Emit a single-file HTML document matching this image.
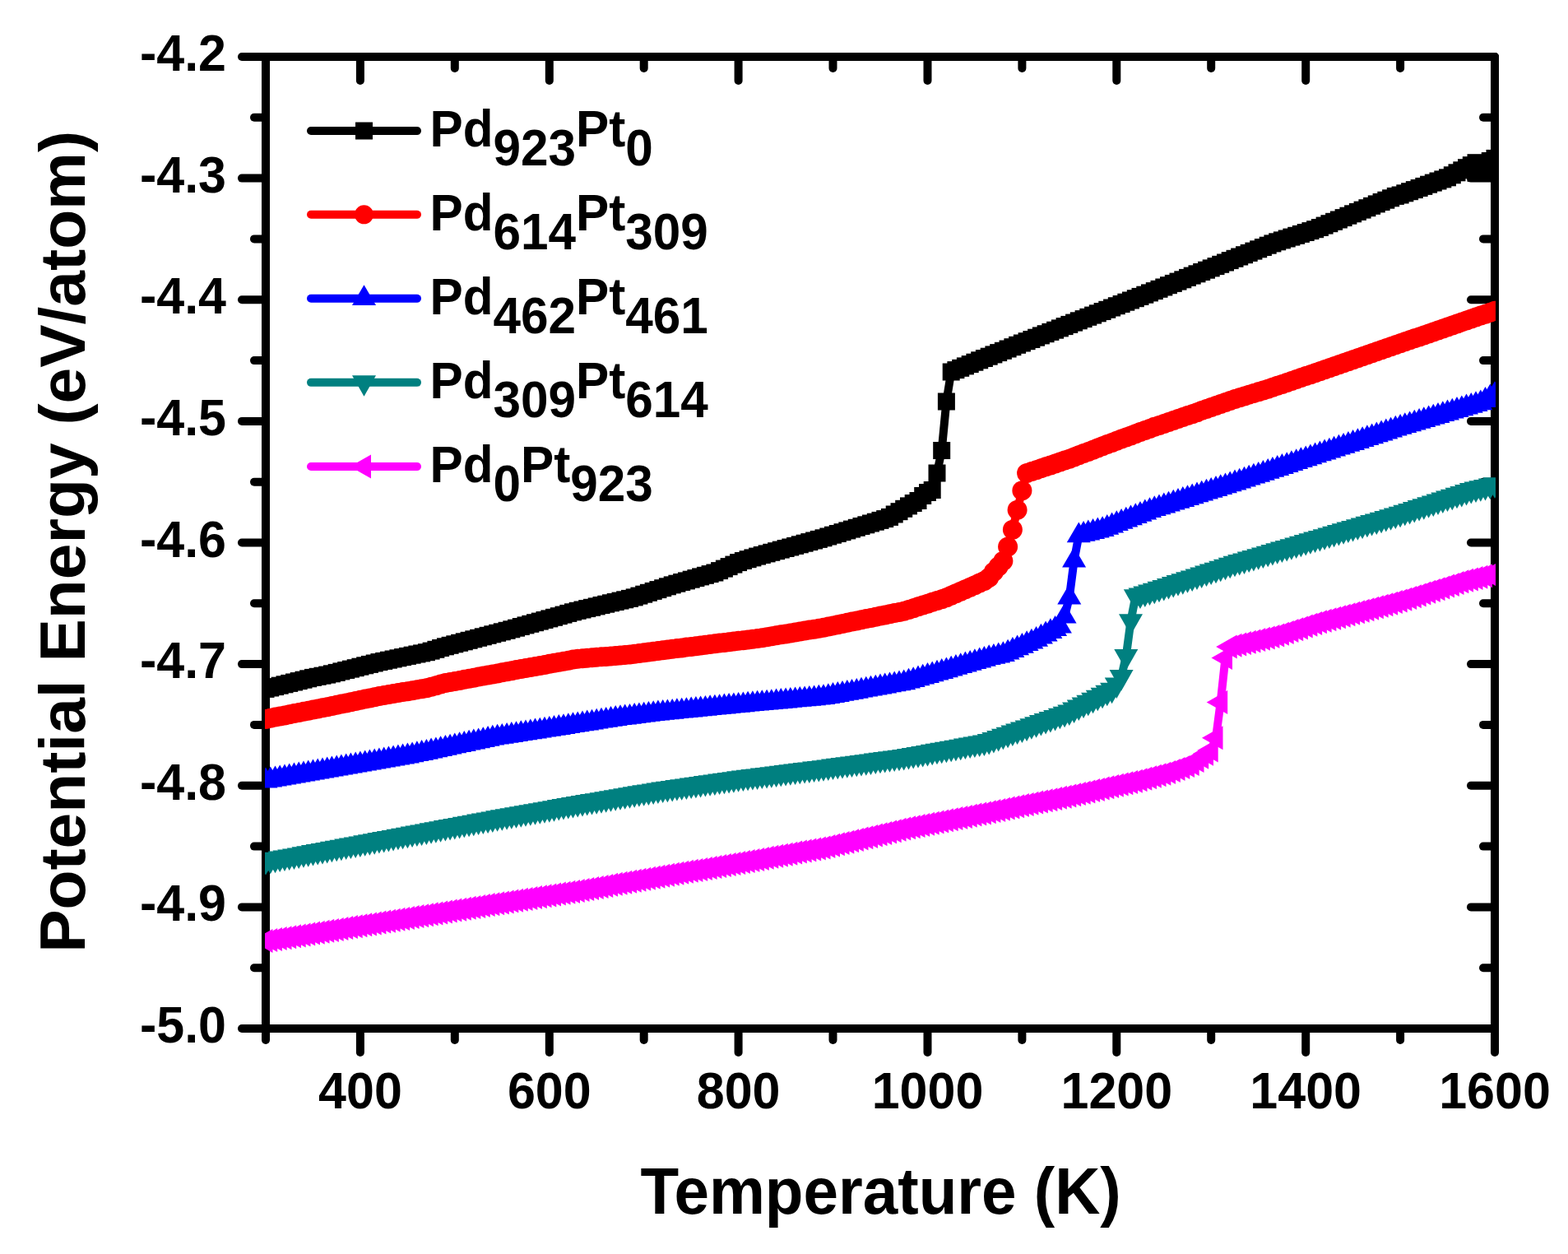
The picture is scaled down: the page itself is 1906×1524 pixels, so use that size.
<!DOCTYPE html>
<html><head><meta charset="utf-8"><title>Potential Energy vs Temperature</title>
<style>html,body{margin:0;padding:0;background:#fff;}svg{display:block;}</style>
</head><body>
<svg width="1906" height="1524" viewBox="0 0 1906 1524">
<defs>
<marker id="mSq" markerUnits="userSpaceOnUse" markerWidth="22" markerHeight="22" refX="11" refY="11" overflow="visible"><rect x="0.5" y="0.5" width="21" height="21" fill="#000"/></marker>
<marker id="mCi" markerUnits="userSpaceOnUse" markerWidth="24" markerHeight="24" refX="12" refY="12" overflow="visible"><circle cx="12" cy="12" r="11.5" fill="#f00"/></marker>
<marker id="mCi2" markerUnits="userSpaceOnUse" markerWidth="24" markerHeight="24" refX="12" refY="12" overflow="visible"><circle cx="12" cy="12" r="12" fill="#f00"/></marker>
<marker id="mTu" markerUnits="userSpaceOnUse" markerWidth="30" markerHeight="30" refX="15" refY="16.8" overflow="visible"><path d="M15,0.3 L29.5,25.1 L0.5,25.1Z" fill="#00f"/></marker>
<marker id="mTd" markerUnits="userSpaceOnUse" markerWidth="30" markerHeight="30" refX="15" refY="8.6" overflow="visible"><path d="M0.5,0 L29.5,0 L15,25.5Z" fill="#008080"/></marker>
<marker id="mTl" markerUnits="userSpaceOnUse" markerWidth="30" markerHeight="30" refX="17" refY="14.5" overflow="visible"><path d="M0,14.5 L25.5,0 L25.5,29Z" fill="#f0f"/></marker>
<clipPath id="clipPlot"><rect x="322" y="0" width="1496" height="1524"/></clipPath>
</defs>
<rect width="1906" height="1524" fill="#fff"/>
<g stroke="#000" stroke-width="10" stroke-linecap="round" fill="none"><rect x="323" y="69" width="1494" height="1181" fill="none" stroke="#000" stroke-width="10" stroke-linejoin="round"/><line x1="323" y1="69.0" x2="294" y2="69.0"/><line x1="1817" y1="69.0" x2="1788" y2="69.0"/><line x1="323" y1="142.8" x2="309" y2="142.8"/><line x1="1817" y1="142.8" x2="1803" y2="142.8"/><line x1="323" y1="216.6" x2="294" y2="216.6"/><line x1="1817" y1="216.6" x2="1788" y2="216.6"/><line x1="323" y1="290.4" x2="309" y2="290.4"/><line x1="1817" y1="290.4" x2="1803" y2="290.4"/><line x1="323" y1="364.2" x2="294" y2="364.2"/><line x1="1817" y1="364.2" x2="1788" y2="364.2"/><line x1="323" y1="438.1" x2="309" y2="438.1"/><line x1="1817" y1="438.1" x2="1803" y2="438.1"/><line x1="323" y1="511.9" x2="294" y2="511.9"/><line x1="1817" y1="511.9" x2="1788" y2="511.9"/><line x1="323" y1="585.7" x2="309" y2="585.7"/><line x1="1817" y1="585.7" x2="1803" y2="585.7"/><line x1="323" y1="659.5" x2="294" y2="659.5"/><line x1="1817" y1="659.5" x2="1788" y2="659.5"/><line x1="323" y1="733.3" x2="309" y2="733.3"/><line x1="1817" y1="733.3" x2="1803" y2="733.3"/><line x1="323" y1="807.1" x2="294" y2="807.1"/><line x1="1817" y1="807.1" x2="1788" y2="807.1"/><line x1="323" y1="880.9" x2="309" y2="880.9"/><line x1="1817" y1="880.9" x2="1803" y2="880.9"/><line x1="323" y1="954.8" x2="294" y2="954.8"/><line x1="1817" y1="954.8" x2="1788" y2="954.8"/><line x1="323" y1="1028.6" x2="309" y2="1028.6"/><line x1="1817" y1="1028.6" x2="1803" y2="1028.6"/><line x1="323" y1="1102.4" x2="294" y2="1102.4"/><line x1="1817" y1="1102.4" x2="1788" y2="1102.4"/><line x1="323" y1="1176.2" x2="309" y2="1176.2"/><line x1="1817" y1="1176.2" x2="1803" y2="1176.2"/><line x1="323" y1="1250.0" x2="294" y2="1250.0"/><line x1="1817" y1="1250.0" x2="1788" y2="1250.0"/><line x1="323.0" y1="1250" x2="323.0" y2="1264"/><line x1="323.0" y1="69" x2="323.0" y2="83"/><line x1="437.9" y1="1250" x2="437.9" y2="1279"/><line x1="437.9" y1="69" x2="437.9" y2="98"/><line x1="552.8" y1="1250" x2="552.8" y2="1264"/><line x1="552.8" y1="69" x2="552.8" y2="83"/><line x1="667.8" y1="1250" x2="667.8" y2="1279"/><line x1="667.8" y1="69" x2="667.8" y2="98"/><line x1="782.7" y1="1250" x2="782.7" y2="1264"/><line x1="782.7" y1="69" x2="782.7" y2="83"/><line x1="897.6" y1="1250" x2="897.6" y2="1279"/><line x1="897.6" y1="69" x2="897.6" y2="98"/><line x1="1012.5" y1="1250" x2="1012.5" y2="1264"/><line x1="1012.5" y1="69" x2="1012.5" y2="83"/><line x1="1127.5" y1="1250" x2="1127.5" y2="1279"/><line x1="1127.5" y1="69" x2="1127.5" y2="98"/><line x1="1242.4" y1="1250" x2="1242.4" y2="1264"/><line x1="1242.4" y1="69" x2="1242.4" y2="83"/><line x1="1357.3" y1="1250" x2="1357.3" y2="1279"/><line x1="1357.3" y1="69" x2="1357.3" y2="98"/><line x1="1472.2" y1="1250" x2="1472.2" y2="1264"/><line x1="1472.2" y1="69" x2="1472.2" y2="83"/><line x1="1587.2" y1="1250" x2="1587.2" y2="1279"/><line x1="1587.2" y1="69" x2="1587.2" y2="98"/><line x1="1702.1" y1="1250" x2="1702.1" y2="1264"/><line x1="1702.1" y1="69" x2="1702.1" y2="83"/><line x1="1817.0" y1="1250" x2="1817.0" y2="1279"/><line x1="1817.0" y1="69" x2="1817.0" y2="98"/></g>
<g clip-path="url(#clipPlot)">
<polyline points="323.0,837.4 328.7,836.0 334.5,834.6 340.2,833.2 346.0,831.8 351.7,830.4 357.5,829.0 363.2,827.6 369.0,826.2 374.7,824.8 380.5,823.4 386.2,822.3 392.0,821.2 397.7,820.1 403.4,818.8 409.2,817.4 414.9,815.9 420.7,814.5 426.4,813.1 432.2,811.7 437.9,810.2 443.7,808.8 449.4,807.4 455.2,806.0 460.9,804.6 466.7,803.4 472.4,802.2 478.1,801.0 483.9,799.8 489.6,798.6 495.4,797.4 501.1,796.2 506.9,795.0 512.6,793.9 518.4,792.7 524.1,791.1 529.9,789.3 535.6,787.5 541.4,785.8 547.1,784.3 552.8,782.8 558.6,781.3 564.3,779.8 570.1,778.3 575.8,776.8 581.6,775.3 587.3,773.8 593.1,772.3 598.8,770.8 604.6,769.3 610.3,767.8 616.1,766.3 621.8,764.8 627.5,763.2 633.3,761.5 639.0,759.9 644.8,758.3 650.5,756.7 656.3,755.1 662.0,753.5 667.8,751.9 673.5,750.3 679.3,748.7 685.0,747.1 690.8,745.4 696.5,743.8 702.2,742.3 708.0,741.0 713.7,739.6 719.5,738.3 725.2,736.9 731.0,735.5 736.7,734.2 742.5,732.8 748.2,731.5 754.0,730.1 759.7,728.8 765.5,727.4 771.2,725.9 776.9,724.1 782.7,722.2 788.4,720.3 794.2,718.4 799.9,716.6 805.7,714.7 811.4,712.8 817.2,710.9 822.9,709.2 828.7,707.5 834.4,705.9 840.2,704.2 845.9,702.6 851.6,700.9 857.4,699.3 863.1,697.6 868.9,696.0 874.6,693.6 880.4,691.1 886.1,688.6 891.9,686.1 897.6,683.6 903.4,681.5 909.1,679.7 914.9,677.9 920.6,676.1 926.3,674.5 932.1,672.9 937.8,671.3 943.6,669.7 949.3,668.1 955.1,666.5 960.8,665.0 966.6,663.4 972.3,661.8 978.1,660.2 983.8,658.6 989.6,657.0 995.3,655.4 1001.0,653.8 1006.8,652.0 1012.5,650.2 1018.3,648.5 1024.0,646.7 1029.8,644.9 1035.5,643.1 1041.3,641.3 1047.0,639.5 1052.8,637.8 1058.5,636.0 1064.3,634.2 1070.0,632.4 1075.7,630.6 1081.5,628.4 1087.2,625.0 1093.0,621.7 1098.7,618.3 1104.5,614.9 1110.2,611.5 1116.0,608.5 1121.7,602.5 1127.5,598.5 1133.2,595.5 1139.0,575.0 1144.7,547.5 1150.4,488.0 1156.2,452.0 1161.9,449.6 1167.7,447.3 1173.4,444.9 1179.2,442.6 1184.9,440.2 1190.7,437.8 1196.4,435.5 1202.2,433.2 1207.9,430.9 1213.7,428.6 1219.4,426.3 1225.1,424.0 1230.9,421.7 1236.6,419.3 1242.4,417.0 1248.1,414.7 1253.9,412.5 1259.6,410.2 1265.4,407.9 1271.1,405.7 1276.9,403.4 1282.6,401.2 1288.4,398.9 1294.1,396.6 1299.8,394.4 1305.6,392.1 1311.3,389.8 1317.1,387.6 1322.8,385.3 1328.6,383.1 1334.3,380.8 1340.1,378.5 1345.8,376.3 1351.6,374.0 1357.3,371.7 1363.1,369.5 1368.8,367.2 1374.5,365.0 1380.3,362.7 1386.0,360.4 1391.8,358.2 1397.5,355.9 1403.3,353.6 1409.0,351.3 1414.8,349.0 1420.5,346.7 1426.3,344.4 1432.0,342.1 1437.8,339.8 1443.5,337.4 1449.2,335.1 1455.0,332.8 1460.7,330.5 1466.5,328.2 1472.2,325.9 1478.0,323.6 1483.7,321.3 1489.5,319.0 1495.2,316.6 1501.0,314.3 1506.7,312.0 1512.5,309.7 1518.2,307.4 1523.9,305.1 1529.7,302.8 1535.4,300.5 1541.2,298.2 1546.9,295.9 1552.7,293.8 1558.4,291.9 1564.2,290.0 1569.9,288.1 1575.7,286.3 1581.4,284.4 1587.2,282.5 1592.9,280.6 1598.6,278.7 1604.4,276.5 1610.1,274.1 1615.9,271.7 1621.6,269.3 1627.4,267.0 1633.1,264.6 1638.9,262.2 1644.6,259.8 1650.4,257.4 1656.1,255.1 1661.9,252.7 1667.6,250.3 1673.3,247.9 1679.1,245.5 1684.8,243.2 1690.6,240.8 1696.3,238.4 1702.1,237.0 1707.8,234.8 1713.6,232.7 1719.3,230.6 1725.1,228.5 1730.8,226.4 1736.6,224.2 1742.3,222.1 1748.0,220.0 1753.8,217.9 1759.5,215.8 1765.3,212.8 1771.0,209.8 1776.8,206.8 1782.5,203.7 1788.3,200.7 1794.0,197.7 1794.0,210.3 1799.8,210.3 1805.5,210.3 1811.3,195.5 1817.0,192.4" fill="none" stroke="#000" stroke-width="10" stroke-linejoin="round" marker-start="url(#mSq)" marker-mid="url(#mSq)" marker-end="url(#mSq)"/>
<polyline points="323.0,873.9 328.7,872.7 334.5,871.6 340.2,870.5 346.0,869.4 351.7,868.2 357.5,867.1 363.2,866.0 369.0,864.8 374.7,863.7 380.5,862.6 386.2,861.4 392.0,860.3 397.7,859.2 403.4,858.0 409.2,856.8 414.9,855.6 420.7,854.4 426.4,853.2 432.2,852.0 437.9,850.8 443.7,849.6 449.4,848.4 455.2,847.2 460.9,846.1 466.7,845.1 472.4,844.1 478.1,843.1 483.9,842.1 489.6,841.1 495.4,840.2 501.1,839.2 506.9,838.2 512.6,837.2 518.4,836.2 524.1,834.8 529.9,833.2 535.6,831.5 541.4,830.0 547.1,829.0 552.8,827.9 558.6,826.9 564.3,825.8 570.1,824.7 575.8,823.7 581.6,822.6 587.3,821.5 593.1,820.5 598.8,819.4 604.6,818.4 610.3,817.3 616.1,816.2 621.8,815.2 627.5,814.1 633.3,813.1 639.0,812.0 644.8,811.0 650.5,810.0 656.3,808.9 662.0,807.9 667.8,806.8 673.5,805.8 679.3,804.8 685.0,803.7 690.8,802.7 696.5,801.6 702.2,800.8 708.0,800.3 713.7,799.8 719.5,799.3 725.2,798.8 731.0,798.3 736.7,797.9 742.5,797.4 748.2,796.9 754.0,796.4 759.7,795.9 765.5,795.4 771.2,794.8 776.9,794.1 782.7,793.3 788.4,792.6 794.2,791.8 799.9,791.1 805.7,790.3 811.4,789.6 817.2,788.8 822.9,788.1 828.7,787.4 834.4,786.6 840.2,785.9 845.9,785.2 851.6,784.4 857.4,783.7 863.1,783.0 868.9,782.2 874.6,781.5 880.4,780.9 886.1,780.2 891.9,779.5 897.6,778.8 903.4,778.2 909.1,777.5 914.9,776.8 920.6,776.1 926.3,775.2 932.1,774.2 937.8,773.2 943.6,772.3 949.3,771.3 955.1,770.4 960.8,769.4 966.6,768.5 972.3,767.5 978.1,766.6 983.8,765.6 989.6,764.7 995.3,763.7 1001.0,762.7 1006.8,761.5 1012.5,760.4 1018.3,759.2 1024.0,758.0 1029.8,756.8 1035.5,755.6 1041.3,754.5 1047.0,753.3 1052.8,752.1 1058.5,750.9 1064.3,749.8 1070.0,748.6 1075.7,747.4 1081.5,746.2 1087.2,745.1 1093.0,743.9 1098.7,742.7 1104.5,741.0 1110.2,739.2 1116.0,737.3 1121.7,735.5 1127.5,733.7 1133.2,731.8 1139.0,730.0 1144.7,728.2 1150.4,726.3 1156.2,723.8 1161.9,721.3 1167.7,718.8 1173.4,716.3 1179.2,713.8 1184.9,711.2 1190.7,708.6 1196.4,706.0 1202.2,701.9 1207.9,695.1 1213.7,688.4 1219.4,681.7 1225.1,664.6 1230.9,643.7 1236.6,619.7 1242.4,596.2 1248.1,575.0 1253.9,573.1 1259.6,571.2 1265.4,569.2 1271.1,567.3 1276.9,565.4 1282.6,563.5 1288.4,561.5 1294.1,559.6 1299.8,557.7 1305.6,555.5 1311.3,553.3 1317.1,551.1 1322.8,548.9 1328.6,546.7 1334.3,544.5 1340.1,542.3 1345.8,540.1 1351.6,537.9 1357.3,535.8 1363.1,533.6 1368.8,531.5 1374.5,529.4 1380.3,527.2 1386.0,525.1 1391.8,523.0 1397.5,520.9 1403.3,518.8 1409.0,516.9 1414.8,514.9 1420.5,513.0 1426.3,511.0 1432.0,509.0 1437.8,507.1 1443.5,505.1 1449.2,503.2 1455.0,501.2 1460.7,499.1 1466.5,497.1 1472.2,495.1 1478.0,493.0 1483.7,491.0 1489.5,489.0 1495.2,486.9 1501.0,485.0 1506.7,483.2 1512.5,481.5 1518.2,479.7 1523.9,478.0 1529.7,476.3 1535.4,474.5 1541.2,472.7 1546.9,470.8 1552.7,468.8 1558.4,466.9 1564.2,464.9 1569.9,463.0 1575.7,461.0 1581.4,459.1 1587.2,457.1 1592.9,455.2 1598.6,453.2 1604.4,451.2 1610.1,449.2 1615.9,447.2 1621.6,445.2 1627.4,443.2 1633.1,441.2 1638.9,439.2 1644.6,437.2 1650.4,435.2 1656.1,433.3 1661.9,431.3 1667.6,429.3 1673.3,427.3 1679.1,425.3 1684.8,423.3 1690.6,421.3 1696.3,419.3 1702.1,417.3 1707.8,415.3 1713.6,413.3 1719.3,411.3 1725.1,409.4 1730.8,407.4 1736.6,405.4 1742.3,403.4 1748.0,401.4 1753.8,399.5 1759.5,397.5 1765.3,395.5 1771.0,393.5 1776.8,391.6 1782.5,389.6 1788.3,387.6 1794.0,385.6 1799.8,383.6 1805.5,381.7 1811.3,379.7 1817.0,377.7" fill="none" stroke="#f00" stroke-width="10" stroke-linejoin="round" marker-start="url(#mCi2)" marker-mid="url(#mCi2)" marker-end="url(#mCi2)"/>
<polyline points="323.0,949.1 328.7,948.1 334.5,947.1 340.2,946.1 346.0,945.1 351.7,944.1 357.5,943.1 363.2,942.1 369.0,941.1 374.7,940.1 380.5,939.1 386.2,938.1 392.0,937.1 397.7,936.1 403.4,935.1 409.2,934.1 414.9,933.1 420.7,932.1 426.4,931.1 432.2,930.1 437.9,929.1 443.7,928.1 449.4,927.1 455.2,926.1 460.9,925.1 466.7,924.1 472.4,923.1 478.1,922.1 483.9,921.1 489.6,920.1 495.4,919.1 501.1,918.0 506.9,916.8 512.6,915.6 518.4,914.4 524.1,913.1 529.9,911.9 535.6,910.7 541.4,909.5 547.1,908.2 552.8,907.0 558.6,905.8 564.3,904.6 570.1,903.3 575.8,902.1 581.6,900.9 587.3,899.7 593.1,898.5 598.8,897.2 604.6,896.3 610.3,895.4 616.1,894.5 621.8,893.6 627.5,892.7 633.3,891.8 639.0,890.9 644.8,890.0 650.5,889.1 656.3,888.2 662.0,887.3 667.8,886.4 673.5,885.5 679.3,884.6 685.0,883.7 690.8,882.7 696.5,881.8 702.2,880.9 708.0,880.0 713.7,879.1 719.5,878.2 725.2,877.2 731.0,876.3 736.7,875.4 742.5,874.5 748.2,873.6 754.0,872.8 759.7,872.1 765.5,871.4 771.2,870.6 776.9,869.9 782.7,869.2 788.4,868.5 794.2,867.8 799.9,867.1 805.7,866.5 811.4,865.9 817.2,865.4 822.9,864.8 828.7,864.2 834.4,863.7 840.2,863.1 845.9,862.5 851.6,862.0 857.4,861.4 863.1,860.8 868.9,860.3 874.6,859.7 880.4,859.1 886.1,858.5 891.9,858.0 897.6,857.4 903.4,856.9 909.1,856.3 914.9,855.8 920.6,855.3 926.3,854.7 932.1,854.2 937.8,853.7 943.6,853.1 949.3,852.6 955.1,852.1 960.8,851.5 966.6,851.0 972.3,850.5 978.1,849.9 983.8,849.4 989.6,848.9 995.3,848.3 1001.0,847.7 1006.8,846.7 1012.5,845.6 1018.3,844.6 1024.0,843.5 1029.8,842.5 1035.5,841.4 1041.3,840.4 1047.0,839.3 1052.8,838.3 1058.5,837.2 1064.3,836.2 1070.0,835.1 1075.7,834.1 1081.5,833.0 1087.2,832.0 1093.0,830.9 1098.7,829.9 1104.5,828.3 1110.2,826.7 1116.0,825.0 1121.7,823.3 1127.5,821.6 1133.2,819.9 1139.0,818.2 1144.7,816.6 1150.4,814.9 1156.2,813.2 1161.9,811.5 1167.7,809.8 1173.4,808.1 1179.2,806.5 1184.9,804.8 1190.7,803.1 1196.4,801.4 1202.2,799.8 1207.9,798.5 1213.7,797.1 1219.4,795.7 1225.1,793.2 1230.9,790.6 1236.6,788.0 1242.4,785.4 1248.1,782.8 1253.9,780.2 1259.6,777.5 1265.4,774.3 1271.1,771.1 1276.9,767.8 1282.6,764.6 1288.4,761.3 1294.1,749.2 1299.8,726.3 1305.6,681.3 1311.3,651.0 1317.1,649.5 1322.8,648.1 1328.6,646.6 1334.3,645.1 1340.1,643.7 1345.8,641.4 1351.6,639.1 1357.3,636.8 1363.1,634.5 1368.8,632.3 1374.5,630.0 1380.3,627.7 1386.0,625.4 1391.8,623.1 1397.5,620.8 1403.3,618.8 1409.0,616.9 1414.8,615.1 1420.5,613.2 1426.3,611.3 1432.0,609.5 1437.8,607.6 1443.5,605.8 1449.2,603.9 1455.0,602.0 1460.7,600.2 1466.5,598.3 1472.2,596.4 1478.0,594.6 1483.7,592.7 1489.5,590.9 1495.2,589.0 1501.0,587.1 1506.7,585.2 1512.5,583.2 1518.2,581.3 1523.9,579.3 1529.7,577.4 1535.4,575.4 1541.2,573.5 1546.9,571.5 1552.7,569.6 1558.4,567.6 1564.2,565.7 1569.9,563.7 1575.7,561.8 1581.4,559.8 1587.2,557.9 1592.9,555.9 1598.6,553.9 1604.4,552.0 1610.1,550.1 1615.9,548.2 1621.6,546.3 1627.4,544.3 1633.1,542.4 1638.9,540.5 1644.6,538.6 1650.4,536.7 1656.1,534.7 1661.9,532.8 1667.6,530.9 1673.3,529.0 1679.1,527.1 1684.8,525.1 1690.6,523.2 1696.3,521.3 1702.1,519.4 1707.8,517.7 1713.6,516.0 1719.3,514.2 1725.1,512.5 1730.8,510.8 1736.6,509.0 1742.3,507.3 1748.0,505.6 1753.8,503.8 1759.5,502.1 1765.3,500.3 1771.0,498.6 1776.8,496.9 1782.5,495.1 1788.3,493.4 1794.0,491.7 1799.8,489.9 1805.5,486.6 1811.3,483.1 1817.0,479.7" fill="none" stroke="#00f" stroke-width="10" stroke-linejoin="round" marker-start="url(#mTu)" marker-mid="url(#mTu)" marker-end="url(#mTu)"/>
<polyline points="323.0,1046.5 328.7,1045.4 334.5,1044.3 340.2,1043.2 346.0,1042.2 351.7,1041.1 357.5,1040.0 363.2,1039.0 369.0,1037.9 374.7,1036.8 380.5,1035.7 386.2,1034.7 392.0,1033.6 397.7,1032.5 403.4,1031.4 409.2,1030.4 414.9,1029.3 420.7,1028.2 426.4,1027.2 432.2,1026.1 437.9,1025.0 443.7,1023.9 449.4,1022.9 455.2,1021.8 460.9,1020.7 466.7,1019.6 472.4,1018.6 478.1,1017.5 483.9,1016.4 489.6,1015.3 495.4,1014.3 501.1,1013.2 506.9,1012.1 512.6,1011.1 518.4,1010.0 524.1,1008.9 529.9,1007.8 535.6,1006.8 541.4,1005.7 547.1,1004.6 552.8,1003.5 558.6,1002.5 564.3,1001.4 570.1,1000.3 575.8,999.3 581.6,998.2 587.3,997.1 593.1,996.0 598.8,995.0 604.6,993.9 610.3,992.9 616.1,991.9 621.8,990.9 627.5,989.9 633.3,988.9 639.0,987.8 644.8,986.8 650.5,985.8 656.3,984.8 662.0,983.8 667.8,982.8 673.5,981.8 679.3,980.7 685.0,979.7 690.8,978.7 696.5,977.7 702.2,976.7 708.0,975.7 713.7,974.7 719.5,973.7 725.2,972.8 731.0,971.8 736.7,970.8 742.5,969.8 748.2,968.8 754.0,967.9 759.7,966.9 765.5,965.9 771.2,964.9 776.9,963.9 782.7,962.9 788.4,962.0 794.2,961.0 799.9,960.0 805.7,959.2 811.4,958.3 817.2,957.5 822.9,956.7 828.7,955.9 834.4,955.0 840.2,954.2 845.9,953.4 851.6,952.5 857.4,951.7 863.1,950.9 868.9,950.1 874.6,949.2 880.4,948.4 886.1,947.6 891.9,946.8 897.6,945.9 903.4,945.2 909.1,944.4 914.9,943.7 920.6,943.0 926.3,942.2 932.1,941.5 937.8,940.8 943.6,940.1 949.3,939.3 955.1,938.6 960.8,937.9 966.6,937.1 972.3,936.4 978.1,935.7 983.8,935.0 989.6,934.2 995.3,933.5 1001.0,932.8 1006.8,932.0 1012.5,931.2 1018.3,930.4 1024.0,929.7 1029.8,928.9 1035.5,928.1 1041.3,927.3 1047.0,926.5 1052.8,925.8 1058.5,925.0 1064.3,924.2 1070.0,923.4 1075.7,922.7 1081.5,921.9 1087.2,921.1 1093.0,920.3 1098.7,919.6 1104.5,918.6 1110.2,917.6 1116.0,916.5 1121.7,915.5 1127.5,914.5 1133.2,913.4 1139.0,912.4 1144.7,911.4 1150.4,910.4 1156.2,909.3 1161.9,908.3 1167.7,907.3 1173.4,906.2 1179.2,905.2 1184.9,904.2 1190.7,903.1 1196.4,902.1 1202.2,900.7 1207.9,898.6 1213.7,896.5 1219.4,894.4 1225.1,892.3 1230.9,890.2 1236.6,888.2 1242.4,886.1 1248.1,884.0 1253.9,881.9 1259.6,879.8 1265.4,877.7 1271.1,875.6 1276.9,873.5 1282.6,871.5 1288.4,869.4 1294.1,867.3 1299.8,865.2 1305.6,862.2 1311.3,859.2 1317.1,856.2 1322.8,853.3 1328.6,850.3 1334.3,847.3 1340.1,844.3 1345.8,841.3 1351.6,838.3 1357.3,832.0 1363.1,822.5 1368.8,797.5 1374.5,754.8 1380.3,724.9 1386.0,723.0 1391.8,721.1 1397.5,719.2 1403.3,717.3 1409.0,715.4 1414.8,713.5 1420.5,711.6 1426.3,709.6 1432.0,707.7 1437.8,705.8 1443.5,703.9 1449.2,702.0 1455.0,700.1 1460.7,698.2 1466.5,696.2 1472.2,694.2 1478.0,692.3 1483.7,690.3 1489.5,688.3 1495.2,686.3 1501.0,684.4 1506.7,682.7 1512.5,681.0 1518.2,679.2 1523.9,677.5 1529.7,675.8 1535.4,674.1 1541.2,672.4 1546.9,670.7 1552.7,668.9 1558.4,667.2 1564.2,665.5 1569.9,663.8 1575.7,662.1 1581.4,660.3 1587.2,658.6 1592.9,656.9 1598.6,655.2 1604.4,653.5 1610.1,651.8 1615.9,650.1 1621.6,648.4 1627.4,646.6 1633.1,644.9 1638.9,643.2 1644.6,641.5 1650.4,639.8 1656.1,638.1 1661.9,636.4 1667.6,634.7 1673.3,633.0 1679.1,631.3 1684.8,629.6 1690.6,627.9 1696.3,626.1 1702.1,624.4 1707.8,622.4 1713.6,620.5 1719.3,618.6 1725.1,616.7 1730.8,614.8 1736.6,612.9 1742.3,611.0 1748.0,609.1 1753.8,607.1 1759.5,605.2 1765.3,603.3 1771.0,601.4 1776.8,599.5 1782.5,597.6 1788.3,595.7 1794.0,594.2 1799.8,592.9 1805.5,591.5 1811.3,590.2 1817.0,588.9" fill="none" stroke="#008080" stroke-width="10" stroke-linejoin="round" marker-start="url(#mTd)" marker-mid="url(#mTd)" marker-end="url(#mTd)"/>
<polyline points="323.0,1143.4 328.7,1142.5 334.5,1141.6 340.2,1140.6 346.0,1139.7 351.7,1138.8 357.5,1137.8 363.2,1136.9 369.0,1136.0 374.7,1135.0 380.5,1134.1 386.2,1133.2 392.0,1132.2 397.7,1131.3 403.4,1130.4 409.2,1129.4 414.9,1128.5 420.7,1127.6 426.4,1126.6 432.2,1125.7 437.9,1124.8 443.7,1123.8 449.4,1122.9 455.2,1122.0 460.9,1121.0 466.7,1120.1 472.4,1119.2 478.1,1118.3 483.9,1117.3 489.6,1116.4 495.4,1115.5 501.1,1114.5 506.9,1113.6 512.6,1112.7 518.4,1111.7 524.1,1110.8 529.9,1109.9 535.6,1108.9 541.4,1108.0 547.1,1107.1 552.8,1106.1 558.6,1105.2 564.3,1104.3 570.1,1103.3 575.8,1102.4 581.6,1101.5 587.3,1100.5 593.1,1099.6 598.8,1098.7 604.6,1097.8 610.3,1096.9 616.1,1096.0 621.8,1095.1 627.5,1094.2 633.3,1093.3 639.0,1092.4 644.8,1091.5 650.5,1090.6 656.3,1089.7 662.0,1088.8 667.8,1087.9 673.5,1087.0 679.3,1086.1 685.0,1085.2 690.8,1084.3 696.5,1083.4 702.2,1082.4 708.0,1081.4 713.7,1080.4 719.5,1079.4 725.2,1078.4 731.0,1077.4 736.7,1076.4 742.5,1075.3 748.2,1074.3 754.0,1073.3 759.7,1072.3 765.5,1071.3 771.2,1070.3 776.9,1069.3 782.7,1068.3 788.4,1067.3 794.2,1066.3 799.9,1065.3 805.7,1064.3 811.4,1063.3 817.2,1062.3 822.9,1061.3 828.7,1060.3 834.4,1059.3 840.2,1058.3 845.9,1057.4 851.6,1056.4 857.4,1055.4 863.1,1054.4 868.9,1053.4 874.6,1052.4 880.4,1051.4 886.1,1050.5 891.9,1049.5 897.6,1048.5 903.4,1047.5 909.1,1046.4 914.9,1045.4 920.6,1044.4 926.3,1043.4 932.1,1042.3 937.8,1041.3 943.6,1040.3 949.3,1039.2 955.1,1038.2 960.8,1037.2 966.6,1036.1 972.3,1035.1 978.1,1034.1 983.8,1033.0 989.6,1032.0 995.3,1031.0 1001.0,1029.9 1006.8,1028.5 1012.5,1027.2 1018.3,1025.8 1024.0,1024.5 1029.8,1023.2 1035.5,1021.8 1041.3,1020.5 1047.0,1019.1 1052.8,1017.8 1058.5,1016.4 1064.3,1015.1 1070.0,1013.7 1075.7,1012.4 1081.5,1011.0 1087.2,1009.7 1093.0,1008.3 1098.7,1007.0 1104.5,1005.8 1110.2,1004.7 1116.0,1003.6 1121.7,1002.4 1127.5,1001.3 1133.2,1000.2 1139.0,999.1 1144.7,998.0 1150.4,996.8 1156.2,995.7 1161.9,994.6 1167.7,993.5 1173.4,992.4 1179.2,991.2 1184.9,990.1 1190.7,989.0 1196.4,987.9 1202.2,986.7 1207.9,985.6 1213.7,984.4 1219.4,983.3 1225.1,982.1 1230.9,980.9 1236.6,979.8 1242.4,978.6 1248.1,977.5 1253.9,976.3 1259.6,975.1 1265.4,974.0 1271.1,972.8 1276.9,971.7 1282.6,970.5 1288.4,969.3 1294.1,968.2 1299.8,967.0 1305.6,965.7 1311.3,964.5 1317.1,963.2 1322.8,961.9 1328.6,960.6 1334.3,959.4 1340.1,958.1 1345.8,956.8 1351.6,955.5 1357.3,954.3 1363.1,953.0 1368.8,951.7 1374.5,950.5 1380.3,949.2 1386.0,947.7 1391.8,946.2 1397.5,944.7 1403.3,943.2 1409.0,941.7 1414.8,940.2 1420.5,938.6 1426.3,936.6 1432.0,934.5 1437.8,932.5 1443.5,930.5 1449.2,928.4 1455.0,924.5 1460.7,920.3 1466.5,916.2 1472.2,912.0 1478.0,896.7 1483.7,853.4 1489.5,799.5 1495.2,786.0 1501.0,784.3 1506.7,783.0 1512.5,781.6 1518.2,780.3 1523.9,779.0 1529.7,777.6 1535.4,776.3 1541.2,774.9 1546.9,773.6 1552.7,772.0 1558.4,770.2 1564.2,768.4 1569.9,766.6 1575.7,764.7 1581.4,762.9 1587.2,761.1 1592.9,759.3 1598.6,757.4 1604.4,755.8 1610.1,754.3 1615.9,752.8 1621.6,751.3 1627.4,749.8 1633.1,748.3 1638.9,746.8 1644.6,745.3 1650.4,743.7 1656.1,742.2 1661.9,740.7 1667.6,739.2 1673.3,737.7 1679.1,736.2 1684.8,734.7 1690.6,733.2 1696.3,731.6 1702.1,730.0 1707.8,728.2 1713.6,726.5 1719.3,724.7 1725.1,722.9 1730.8,721.1 1736.6,719.3 1742.3,717.5 1748.0,715.7 1753.8,713.9 1759.5,712.1 1765.3,710.4 1771.0,708.6 1776.8,706.8 1782.5,705.2 1788.3,703.9 1794.0,702.5 1799.8,701.2 1805.5,699.8 1811.3,698.5 1817.0,697.2" fill="none" stroke="#f0f" stroke-width="10" stroke-linejoin="round" marker-start="url(#mTl)" marker-mid="url(#mTl)" marker-end="url(#mTl)"/>
</g>
<g fill="#000"><text font-family="'Liberation Sans', Arial, sans-serif" font-weight="bold" font-size="61" transform="translate(275.00,86.00) scale(1.0,1.045)" text-anchor="end">-4.2</text><text font-family="'Liberation Sans', Arial, sans-serif" font-weight="bold" font-size="61" transform="translate(275.00,233.62) scale(1.0,1.045)" text-anchor="end">-4.3</text><text font-family="'Liberation Sans', Arial, sans-serif" font-weight="bold" font-size="61" transform="translate(275.00,381.25) scale(1.0,1.045)" text-anchor="end">-4.4</text><text font-family="'Liberation Sans', Arial, sans-serif" font-weight="bold" font-size="61" transform="translate(275.00,528.88) scale(1.0,1.045)" text-anchor="end">-4.5</text><text font-family="'Liberation Sans', Arial, sans-serif" font-weight="bold" font-size="61" transform="translate(275.00,676.50) scale(1.0,1.045)" text-anchor="end">-4.6</text><text font-family="'Liberation Sans', Arial, sans-serif" font-weight="bold" font-size="61" transform="translate(275.00,824.12) scale(1.0,1.045)" text-anchor="end">-4.7</text><text font-family="'Liberation Sans', Arial, sans-serif" font-weight="bold" font-size="61" transform="translate(275.00,971.75) scale(1.0,1.045)" text-anchor="end">-4.8</text><text font-family="'Liberation Sans', Arial, sans-serif" font-weight="bold" font-size="61" transform="translate(275.00,1119.38) scale(1.0,1.045)" text-anchor="end">-4.9</text><text font-family="'Liberation Sans', Arial, sans-serif" font-weight="bold" font-size="61" transform="translate(275.00,1267.00) scale(1.0,1.045)" text-anchor="end">-5.0</text><text font-family="'Liberation Sans', Arial, sans-serif" font-weight="bold" font-size="61" transform="translate(437.92,1347.00) scale(1.0,1.045)" text-anchor="middle">400</text><text font-family="'Liberation Sans', Arial, sans-serif" font-weight="bold" font-size="61" transform="translate(667.77,1347.00) scale(1.0,1.045)" text-anchor="middle">600</text><text font-family="'Liberation Sans', Arial, sans-serif" font-weight="bold" font-size="61" transform="translate(897.62,1347.00) scale(1.0,1.045)" text-anchor="middle">800</text><text font-family="'Liberation Sans', Arial, sans-serif" font-weight="bold" font-size="61" transform="translate(1127.46,1347.00) scale(1.0,1.045)" text-anchor="middle">1000</text><text font-family="'Liberation Sans', Arial, sans-serif" font-weight="bold" font-size="61" transform="translate(1357.31,1347.00) scale(1.0,1.045)" text-anchor="middle">1200</text><text font-family="'Liberation Sans', Arial, sans-serif" font-weight="bold" font-size="61" transform="translate(1587.15,1347.00) scale(1.0,1.045)" text-anchor="middle">1400</text><text font-family="'Liberation Sans', Arial, sans-serif" font-weight="bold" font-size="61" transform="translate(1817.00,1347.00) scale(1.0,1.045)" text-anchor="middle">1600</text></g>
<g fill="#000"><text font-family="'Liberation Sans', Arial, sans-serif" font-weight="bold" font-size="76.4" transform="translate(1070.60,1475.00) scale(1.0,1.04)" text-anchor="middle">Temperature (K)</text></g>
<g fill="#000"><text font-family="'Liberation Sans', Arial, sans-serif" font-weight="bold" font-size="78.5" transform="translate(103.00,658.40) rotate(-90) scale(1.0,1.0)" text-anchor="middle">Potential Energy (eV/atom)</text></g>
<polyline points="378,159.0 442.5,159.0 507,159.0" fill="none" stroke="#000" stroke-width="10" stroke-linecap="round" marker-mid="url(#mSq)"/>
<text font-family="'Liberation Sans', Arial, sans-serif" font-weight="bold" font-size="61" transform="translate(522.5,177.80) scale(0.988,1.045)" fill="#000">Pd<tspan dy="22.5">923</tspan><tspan dy="-22.5">Pt</tspan><tspan dy="22.5">0</tspan></text>
<polyline points="378,260.8 442.5,260.8 507,260.8" fill="none" stroke="#f00" stroke-width="10" stroke-linecap="round" marker-mid="url(#mCi)"/>
<text font-family="'Liberation Sans', Arial, sans-serif" font-weight="bold" font-size="61" transform="translate(522.5,279.60) scale(0.988,1.045)" fill="#000">Pd<tspan dy="22.5">614</tspan><tspan dy="-22.5">Pt</tspan><tspan dy="22.5">309</tspan></text>
<polyline points="378,362.8 442.5,362.8 507,362.8" fill="none" stroke="#00f" stroke-width="10" stroke-linecap="round" marker-mid="url(#mTu)"/>
<text font-family="'Liberation Sans', Arial, sans-serif" font-weight="bold" font-size="61" transform="translate(522.5,381.60) scale(0.988,1.045)" fill="#000">Pd<tspan dy="22.5">462</tspan><tspan dy="-22.5">Pt</tspan><tspan dy="22.5">461</tspan></text>
<polyline points="378,464.85 442.5,464.85 507,464.85" fill="none" stroke="#008080" stroke-width="10" stroke-linecap="round" marker-mid="url(#mTd)"/>
<text font-family="'Liberation Sans', Arial, sans-serif" font-weight="bold" font-size="61" transform="translate(522.5,483.65) scale(0.988,1.045)" fill="#000">Pd<tspan dy="22.5">309</tspan><tspan dy="-22.5">Pt</tspan><tspan dy="22.5">614</tspan></text>
<polyline points="378,567.0 442.5,567.0 507,567.0" fill="none" stroke="#f0f" stroke-width="10" stroke-linecap="round" marker-mid="url(#mTl)"/>
<text font-family="'Liberation Sans', Arial, sans-serif" font-weight="bold" font-size="61" transform="translate(522.5,585.80) scale(0.988,1.045)" fill="#000">Pd<tspan dy="22.5">0</tspan><tspan dy="-22.5">Pt</tspan><tspan dy="22.5">923</tspan></text>
</svg>
</body></html>
